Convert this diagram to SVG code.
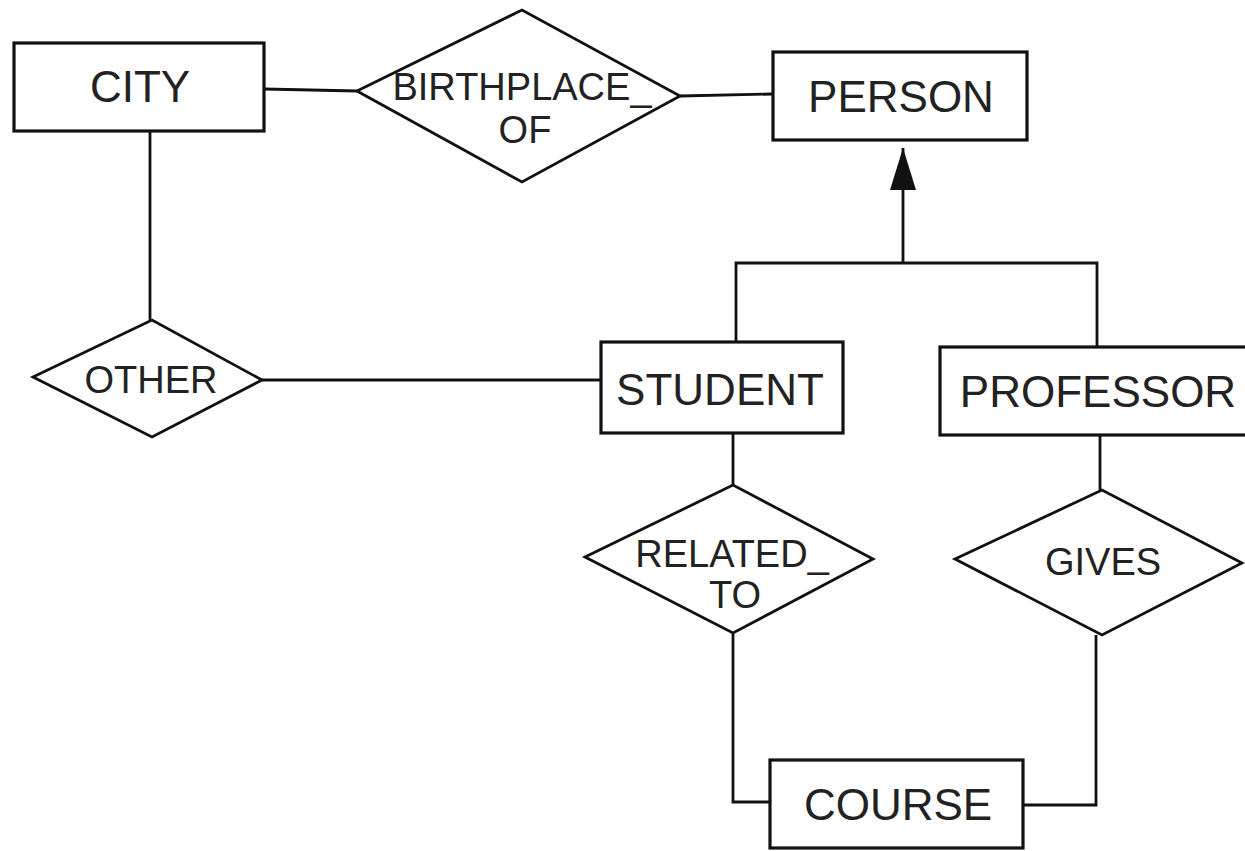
<svg xmlns="http://www.w3.org/2000/svg" width="1245" height="851" viewBox="0 0 1245 851">
  <style>
    .ent { fill: #fff; stroke: #111; stroke-width: 3.2; }
    .rel { fill: #fff; stroke: #111; stroke-width: 2.8; stroke-linejoin: miter; }
    .ln { fill: none; stroke: #111; stroke-width: 2.8; }
    .t { font-family: "Liberation Sans", Arial, sans-serif; fill: #222; text-anchor: middle; }
    .te { font-size: 44px; }
    .tr { font-size: 38px; }
  </style>
  <defs>
    <!-- solid triangular head for the ISA link -->
    <marker id="isa" markerUnits="userSpaceOnUse" markerWidth="43" markerHeight="27" refX="42" refY="13" orient="auto" viewBox="0 0 43 27">
      <path d="M0 0 L42 13 L0 26 Z" fill="#111"/>
    </marker>
  </defs>
  <rect width="1245" height="851" fill="#fff"/>

  <g id="connectors">
    <!-- CITY - BIRTHPLACE_OF - PERSON -->
    <polyline class="ln" points="264,89 357,91"/>
    <polyline class="ln" points="680,96 773,94"/>
    <!-- CITY - OTHER - STUDENT -->
    <polyline class="ln" points="150,131 150,320"/>
    <polyline class="ln" points="262,380 601,380"/>
    <!-- ISA hierarchy: STUDENT, PROFESSOR -> PERSON -->
    <polyline class="ln" points="736,342 736,263 1097,263 1097,347"/>
    <line class="ln" x1="903" y1="263" x2="903" y2="148" marker-end="url(#isa)"/>
    <!-- STUDENT - RELATED_TO - COURSE -->
    <polyline class="ln" points="733,433 733,485"/>
    <polyline class="ln" points="733,633 733,802 770,802"/>
    <!-- PROFESSOR - GIVES - COURSE -->
    <polyline class="ln" points="1100,435 1100,490"/>
    <polyline class="ln" points="1023,805 1096,805 1096,635"/>
  </g>

  <g id="city">
    <rect class="ent" x="14" y="43" width="250" height="88"/>
    <text class="t te" x="140" y="102">CITY</text>
  </g>

  <g id="birthplace_of">
    <polygon class="rel" points="357,91 522,10 680,96 522,182"/>
    <text class="t tr" x="522" y="100" font-size="39">BIRTHPLACE_</text>
    <text class="t tr" x="525" y="143">OF</text>
  </g>

  <g id="person">
    <rect class="ent" x="773" y="52" width="254" height="88"/>
    <text class="t te" x="901" y="112">PERSON</text>
  </g>

  <g id="other">
    <polygon class="rel" points="33,377 152,320 262,380 152,437"/>
    <text class="t tr" x="151" y="393">OTHER</text>
  </g>

  <g id="student">
    <rect class="ent" x="601" y="342" width="242" height="91"/>
    <text class="t te" x="720" y="405" font-size="45">STUDENT</text>
  </g>

  <g id="professor">
    <rect class="ent" x="940" y="347" width="310" height="88"/>
    <text class="t te" x="1098" y="407">PROFESSOR</text>
  </g>

  <g id="related_to">
    <polygon class="rel" points="585,557 733,485 873,559 733,633"/>
    <text class="t tr" x="732" y="567">RELATED_</text>
    <text class="t tr" x="735" y="608">TO</text>
  </g>

  <g id="gives">
    <polygon class="rel" points="955,559 1102,490 1242,563 1102,635"/>
    <text class="t tr" x="1103" y="575">GIVES</text>
  </g>

  <g id="course">
    <rect class="ent" x="770" y="760" width="253" height="88"/>
    <text class="t te" x="898" y="820" font-size="45">COURSE</text>
  </g>
</svg>
